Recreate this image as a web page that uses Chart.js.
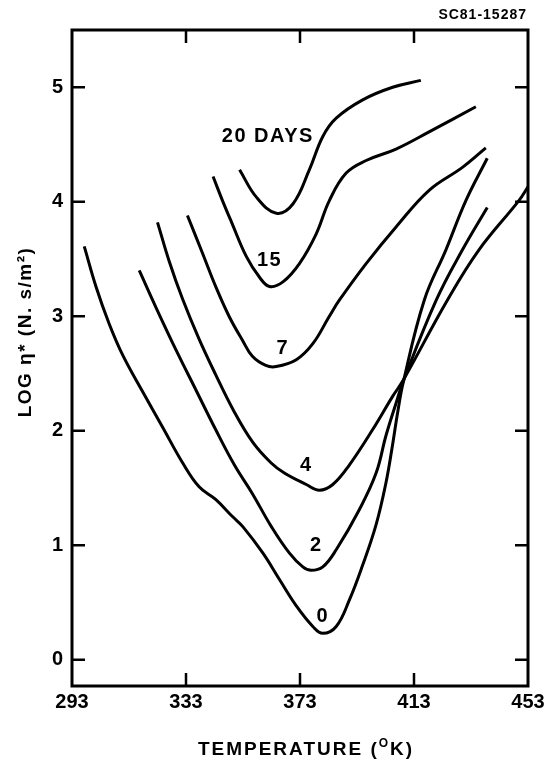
<!DOCTYPE html>
<html>
<head>
<meta charset="utf-8">
<script src="https://cdn.jsdelivr.net/npm/chart.js@4/dist/chart.umd.min.js"></script>
<style>
  html, body { margin: 0; padding: 0; background: #fff; }
  canvas { display: block; }
</style>
</head>
<body>
<canvas id="viscosity" width="549" height="759"></canvas>
<script>
  "use strict";

  // tick labels
  const tempTicks = [293, 333, 373, 413, 453];
  const logTicks = [0, 1, 2, 3, 4, 5];

  // curves (temperature K, log viscosity)
  const day0Temp = [297.3, 301.4, 306.1, 310.8, 317.8, 324.8, 331.8, 337.6, 343.4, 349.3, 353.0, 360.0, 365.8, 371.7, 377.5, 381.0, 385.7, 390.3, 394.9, 399.7, 403.2, 405.5, 407.2, 409.2, 416.6, 424.2, 431.2, 438.7];
  const day0Log = [3.61, 3.26, 2.93, 2.66, 2.34, 2.03, 1.72, 1.51, 1.40, 1.25, 1.16, 0.93, 0.70, 0.47, 0.29, 0.23, 0.29, 0.52, 0.82, 1.18, 1.55, 1.88, 2.15, 2.42, 3.14, 3.58, 4.01, 4.38];

  const day2Temp = [316.6, 322.4, 329.4, 336.4, 343.4, 350.0, 356.3, 363.0, 369.3, 374.0, 376.9, 381.0, 385.7, 393.8, 399.7, 403.2, 406.7, 409.2, 420.8, 430.0, 438.7];
  const day2Log = [3.40, 3.08, 2.71, 2.36, 2.01, 1.70, 1.45, 1.16, 0.93, 0.81, 0.78, 0.81, 0.96, 1.31, 1.63, 1.96, 2.24, 2.43, 3.14, 3.58, 3.95];

  const day4Temp = [323.0, 327.1, 331.8, 337.6, 343.4, 349.4, 356.4, 362.8, 367.5, 375.2, 379.8, 384.5, 390.3, 398.5, 405.5, 409.2, 424.7, 435.8, 449.8, 453.0];
  const day4Log = [3.82, 3.48, 3.15, 2.80, 2.49, 2.19, 1.90, 1.72, 1.63, 1.53, 1.48, 1.53, 1.70, 2.01, 2.30, 2.44, 3.14, 3.58, 4.01, 4.13];

  const day7Temp = [333.5, 338.8, 343.4, 348.1, 352.8, 356.3, 361.0, 364.6, 371.7, 377.5, 383.3, 386.8, 396.2, 406.7, 418.3, 430.0, 438.2];
  const day7Log = [3.88, 3.55, 3.26, 3.00, 2.79, 2.65, 2.57, 2.56, 2.62, 2.76, 3.00, 3.14, 3.46, 3.78, 4.10, 4.30, 4.47];

  const day15Temp = [342.5, 345.8, 349.0, 354.2, 358.8, 362.3, 367.0, 372.8, 378.7, 383.3, 389.2, 396.2, 406.7, 418.3, 434.7];
  const day15Log = [4.22, 4.01, 3.82, 3.52, 3.34, 3.26, 3.30, 3.46, 3.72, 4.01, 4.25, 4.36, 4.46, 4.61, 4.83];

  const day20Temp = [351.8, 357.7, 364.7, 370.5, 376.3, 381.0, 385.7, 395.0, 405.5, 415.4];
  const day20Log = [4.28, 4.04, 3.90, 3.98, 4.28, 4.57, 4.73, 4.89, 5.00, 5.06];

  // curve labels, placed in data units
  const curveLabels = ['20 DAYS', '15', '7', '4', '2', '0'];
  const labelTemp = [361.7, 362.3, 367.0, 375.2, 378.7, 381.0];
  const labelLog = [4.57, 3.49, 2.72, 1.70, 1.00, 0.38];

  const FONT = '"Liberation Sans", Arial, Helvetica, sans-serif';

  function toPoints(xs, ys) {
    return xs.map(function(t, i) { return { x: t, y: ys[i] }; });
  }

  function curve(xs, ys) {
    return {
      data: toPoints(xs, ys),
      showLine: true,
      borderColor: '#000',
      borderWidth: 3,
      pointRadius: 0,
      tension: 0.4,
      fill: false
    };
  }

  // box with inward ticks, titles, curve labels, figure number
  const decorations = {
    id: 'decorations',
    afterDraw: function(chart) {
      const ctx = chart.ctx;
      const a = chart.chartArea;
      const x = chart.scales.x;
      const y = chart.scales.y;
      const len = 13;

      ctx.save();
      ctx.strokeStyle = '#000';
      ctx.lineCap = 'butt';

      ctx.beginPath();
      tempTicks.slice(1, -1).forEach(function(v) {
        const px = x.getPixelForValue(v);
        ctx.moveTo(px, a.bottom); ctx.lineTo(px, a.bottom - len);
        ctx.moveTo(px, a.top); ctx.lineTo(px, a.top + len);
      });
      logTicks.forEach(function(v) {
        const py = y.getPixelForValue(v);
        ctx.moveTo(a.left, py); ctx.lineTo(a.left + len, py);
        ctx.moveTo(a.right, py); ctx.lineTo(a.right - len, py);
      });
      ctx.lineWidth = 2.5;
      ctx.stroke();

      ctx.lineWidth = 3;
      ctx.strokeRect(a.left, a.top, a.right - a.left, a.bottom - a.top);

      ctx.fillStyle = '#000';
      ctx.textAlign = 'center';
      ctx.textBaseline = 'middle';
      ctx.letterSpacing = '1.5px';
      ctx.font = 'bold 20px ' + FONT;
      curveLabels.forEach(function(txt, i) {
        ctx.fillText(txt, x.getPixelForValue(labelTemp[i]), y.getPixelForValue(labelLog[i]));
      });

      ctx.letterSpacing = '1px';
      ctx.font = 'bold 14px ' + FONT;
      ctx.textAlign = 'right';
      ctx.fillText('SC81-15287', 527, 15);

      // x axis title with superscript O
      const main1 = 'TEMPERATURE (';
      const sup = 'O';
      const main2 = 'K)';
      ctx.letterSpacing = '2px';
      ctx.textAlign = 'left';
      ctx.textBaseline = 'alphabetic';
      ctx.font = 'bold 19px ' + FONT;
      const w1 = ctx.measureText(main1).width;
      const w3 = ctx.measureText(main2).width;
      ctx.font = 'bold 12px ' + FONT;
      const w2 = ctx.measureText(sup).width;
      let sx = 306 - (w1 + w2 + w3) / 2;
      const base = 755;
      ctx.font = 'bold 19px ' + FONT;
      ctx.fillText(main1, sx, base);
      sx += w1;
      ctx.font = 'bold 12px ' + FONT;
      ctx.fillText(sup, sx, base - 8);
      sx += w2;
      ctx.font = 'bold 19px ' + FONT;
      ctx.fillText(main2, sx, base);

      // y axis title, rotated
      ctx.translate(26, 332);
      ctx.rotate(-Math.PI / 2);
      ctx.textAlign = 'center';
      ctx.textBaseline = 'middle';
      ctx.letterSpacing = '1.5px';
      ctx.font = 'bold 19px ' + FONT;
      ctx.fillText('LOG \u03b7* (N. s/m\u00b2)', 0, 0);

      ctx.restore();
    }
  };

  new Chart(document.getElementById('viscosity'), {
    type: 'scatter',
    data: {
      datasets: [
        curve(day0Temp, day0Log),
        curve(day2Temp, day2Log),
        curve(day4Temp, day4Log),
        curve(day7Temp, day7Log),
        curve(day15Temp, day15Log),
        curve(day20Temp, day20Log)
      ]
    },
    options: {
      responsive: false,
      animation: false,
      devicePixelRatio: 1,
      layout: { padding: { top: 30, right: 21, left: 0, bottom: 0 } },
      plugins: {
        legend: { display: false },
        tooltip: { enabled: false }
      },
      scales: {
        x: {
          type: 'linear',
          min: 293,
          max: 453,
          grid: { display: false, drawTicks: false },
          border: { display: false },
          afterBuildTicks: function(scale) {
            scale.ticks = tempTicks.map(function(v) { return { value: v }; });
          },
          afterFit: function(scale) { scale.height = 73; },
          ticks: {
            color: '#000',
            padding: 4,
            maxRotation: 0,
            autoSkip: false,
            font: { family: FONT, size: 20, weight: 'bold' }
          }
        },
        y: {
          type: 'linear',
          min: -0.23,
          max: 5.5,
          grid: { display: false, drawTicks: false },
          border: { display: false },
          afterBuildTicks: function(scale) {
            scale.ticks = logTicks.map(function(v) { return { value: v }; });
          },
          afterFit: function(scale) { scale.width = 72; },
          ticks: {
            color: '#000',
            padding: 9,
            autoSkip: false,
            font: { family: FONT, size: 20, weight: 'bold' }
          }
        }
      }
    },
    plugins: [decorations]
  });
</script>
</body>
</html>
